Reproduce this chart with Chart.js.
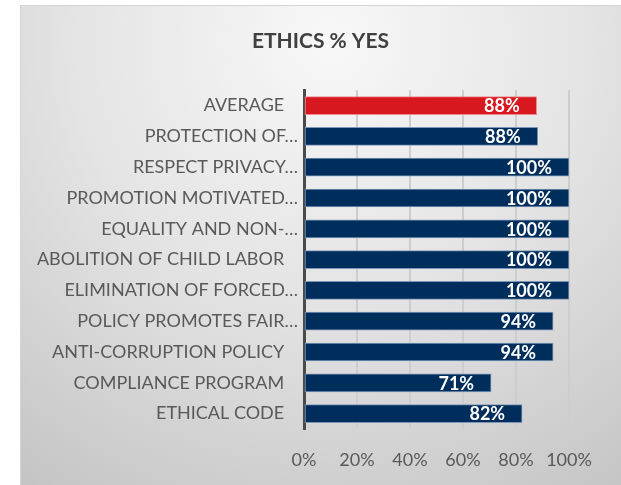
<!DOCTYPE html>
<html>
<head>
<meta charset="utf-8">
<script src="https://cdn.jsdelivr.net/npm/chart.js@4"></script>
<style>
  html, body { margin: 0; padding: 0; background: #fff; }
  #wrap { width: 621px; height: 485px; position: relative; }
</style>
</head>
<body>
<div id="wrap"><canvas id="chart"></canvas></div>
<script>
// data
const categories = [
    'AVERAGE',
    'PROTECTION OF…',
    'RESPECT PRIVACY…',
    'PROMOTION MOTIVATED…',
    'EQUALITY AND NON-…',
    'ABOLITION OF CHILD LABOR',
    'ELIMINATION OF FORCED…',
    'POLICY PROMOTES FAIR…',
    'ANTI-CORRUPTION POLICY',
    'COMPLIANCE PROGRAM',
    'ETHICAL CODE'
];
const yesPercent = [87.8, 88.2, 100, 100, 100, 100, 100, 94, 94, 70.6, 82.3];
const tickValues = [0, 20, 40, 60, 80, 100];

const navy = '#002e5c';
const red = '#d7191f';
const fillColors = categories.map((c, i) => i === 0 ? red : navy);
const edgeColors = categories.map((c, i) => i === 0 ? '#f08a8e' : '#7d97b8');
const fontFamily = 'Lato, "Open Sans", sans-serif';

// grey gradient panel behind the chart
const panelBackground = {
    id: 'panelBackground',
    beforeDraw(chart) {
        const ctx = chart.ctx;
        ctx.save();
        ctx.fillStyle = '#ffffff';
        ctx.fillRect(0, 0, chart.width, chart.height);
        const g = ctx.createRadialGradient(330, 40, 10, 330, 40, 560);
        g.addColorStop(0, '#f7f7f7');
        g.addColorStop(0.45, '#e4e4e4');
        g.addColorStop(1, '#c2c2c2');
        ctx.fillStyle = g;
        ctx.fillRect(20, 5, chart.width - 20, chart.height - 5);
        ctx.strokeStyle = '#d4d4d4';
        ctx.lineWidth = 1;
        ctx.beginPath();
        ctx.moveTo(20.5, chart.height);
        ctx.lineTo(20.5, 5.5);
        ctx.lineTo(chart.width, 5.5);
        ctx.stroke();
        ctx.restore();
    }
};

// white value labels inside the bar ends
const valueLabels = {
    id: 'valueLabels',
    afterDatasetsDraw(chart) {
        const ctx = chart.ctx;
        const meta = chart.getDatasetMeta(0);
        ctx.save();
        ctx.fillStyle = '#ffffff';
        ctx.font = 'bold 18px ' + fontFamily;
        ctx.textAlign = 'right';
        ctx.textBaseline = 'middle';
        meta.data.forEach((bar, i) => {
            const v = chart.data.datasets[0].data[i];
            ctx.fillText(Math.round(v) + '%', bar.x - 17, bar.y + 1);
        });
        ctx.restore();
    }
};

new Chart(document.getElementById('chart'), {
    type: 'bar',
    data: {
        labels: categories,
        datasets: [{
            data: yesPercent,
            backgroundColor: fillColors,
            borderColor: edgeColors,
            borderWidth: 1,
            borderSkipped: false,
            barThickness: 18
        }]
    },
    options: {
        indexAxis: 'y',
        responsive: true,
        maintainAspectRatio: false,
        animation: false,
        layout: { padding: { left: 20, right: 0, top: 0, bottom: 0 } },
        plugins: {
            legend: { display: false },
            tooltip: { enabled: false },
            title: {
                display: true,
                text: 'ETHICS % YES',
                color: '#404040',
                font: { family: fontFamily, size: 21, weight: 'bold' },
                padding: { top: 29, bottom: 36 }
            }
        },
        scales: {
            x: {
                min: 0,
                max: 100,
                afterBuildTicks(scale) {
                    scale.ticks = tickValues.map(v => ({ value: v }));
                },
                afterFit(scale) { scale.height = 56; },
                ticks: {
                    color: '#595959',
                    font: { family: fontFamily, size: 18 },
                    padding: 20,
                    callback: v => v + '%'
                },
                grid: {
                    drawTicks: false,
                    lineWidth: 2,
                    color: c => c.index === 0 ? 'rgba(0,0,0,0)' : '#cdcdcd'
                },
                border: { display: false }
            },
            y: {
                afterFit(scale) { scale.width = 284; },
                ticks: {
                    color: '#595959',
                    font: { family: fontFamily, size: 18 },
                    padding: 6,
                    // full labels sit a little further from the axis than cut ones
                    callback(v) {
                        const label = this.getLabelForValue(v);
                        return label.endsWith('…') ? label : label + '   ';
                    }
                },
                grid: { display: false, drawTicks: false },
                border: { display: true, color: '#4a4a4a', width: 3 }
            },
            // empty strip on the right so the title centres on the whole panel
            gutter: {
                type: 'category',
                position: 'right',
                afterFit(scale) { scale.width = 52; },
                ticks: { display: false },
                grid: { display: false, drawTicks: false },
                border: { display: false }
            }
        }
    },
    plugins: [panelBackground, valueLabels]
});
</script>
</body>
</html>
